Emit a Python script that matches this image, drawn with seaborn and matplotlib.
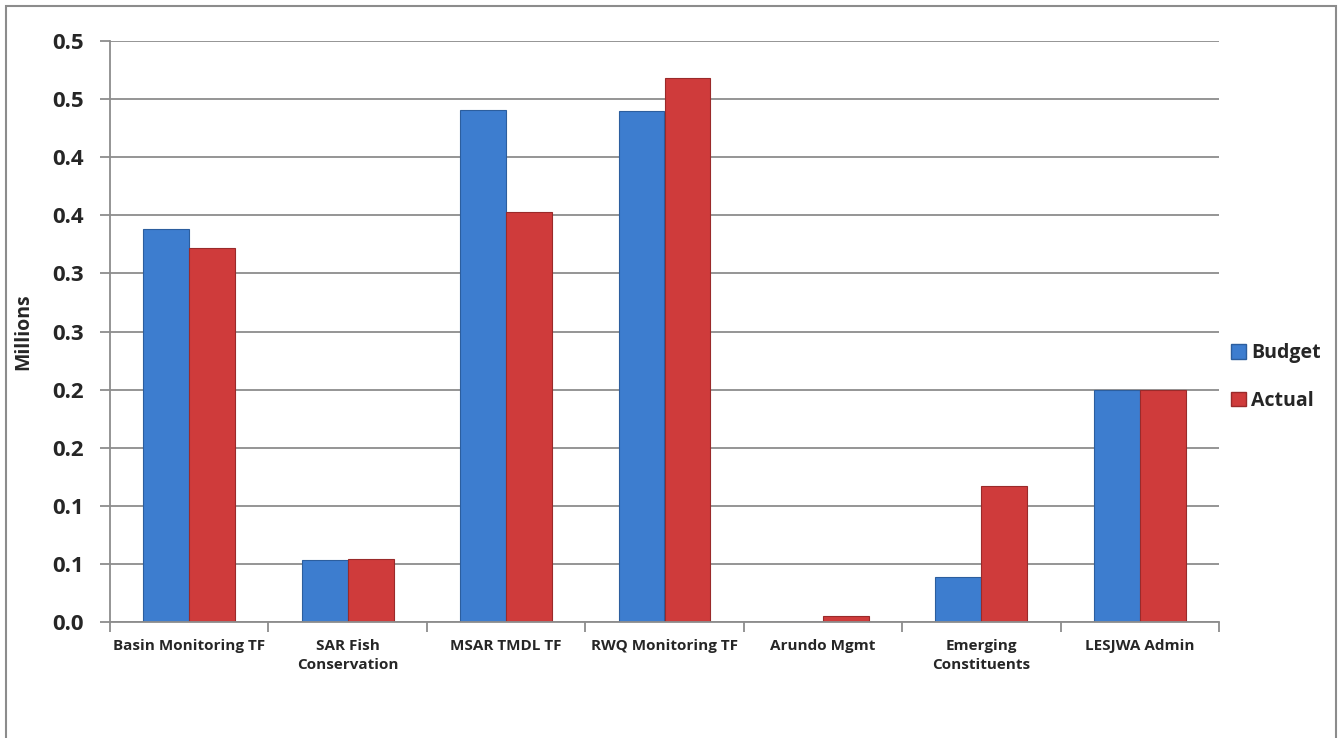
import matplotlib
matplotlib.use("Agg")
import pandas as pd
import matplotlib.pyplot as plt
import seaborn as sns
from matplotlib.patches import Rectangle

categories = ["Basin Monitoring TF", "SAR Fish\nConservation", "MSAR TMDL TF",
              "RWQ Monitoring TF", "Arundo Mgmt", "Emerging\nConstituents", "LESJWA Admin"]
budget = [0.338, 0.053, 0.441, 0.440, 0.0, 0.039, 0.200]
actual = [0.322, 0.054, 0.353, 0.468, 0.005, 0.117, 0.200]
series_names = ["Budget", "Actual"]
ytick_values = [0.0, 0.05, 0.10, 0.15, 0.20, 0.25, 0.30, 0.35, 0.40, 0.45, 0.50]
ytick_labels = ["0.0", "0.1", "0.1", "0.2", "0.2", "0.3", "0.3", "0.4", "0.4", "0.5", "0.5"]

df = pd.DataFrame({
    "category": categories * 2,
    "series": [series_names[0]] * len(budget) + [series_names[1]] * len(actual),
    "value": budget + actual,
})

blue, red = "#3D7DCF", "#CF3B3B"
blue_edge, red_edge = "#2C5E9E", "#9A2A2A"
grey = "#8C8C8C"

sns.set_theme(style="white")
plt.rcParams["font.family"] = ["Open Sans", "DejaVu Sans"]

W, H = 1338, 738
fig = plt.figure(figsize=(W / 100, H / 100), dpi=100)
ax = fig.add_axes([110 / W, 1 - 622 / H, (1219 - 110) / W, (622 - 41) / H])

sns.barplot(data=df, x="category", y="value", hue="series",
            palette={"Budget": blue, "Actual": red}, width=0.58,
            ax=ax, legend=False, saturation=1)
for bar in ax.patches:
    fc = bar.get_facecolor()
    bar.set_edgecolor(blue_edge if fc[2] > fc[0] else red_edge)
    bar.set_linewidth(0.8)

ax.set_xlim(-0.5, len(categories) - 0.5)
ax.set_ylim(0, 0.5)
ax.set_yticks(ytick_values)
ax.set_yticklabels(ytick_labels, fontsize=16, fontweight="bold")
ax.yaxis.grid(True, color=grey, linewidth=1.3)
ax.set_axisbelow(True)
ax.tick_params(axis="y", length=7, width=1.3, color=grey, direction="out", pad=12, left=True)

ax.set_xticks(range(len(categories)))
ax.set_xticklabels(categories, fontsize=11, fontweight="bold", linespacing=1.45)
ax.tick_params(axis="x", which="major", length=0, pad=12)
ax.set_xticks([i - 0.5 for i in range(len(categories) + 1)], minor=True)
ax.tick_params(axis="x", which="minor", length=7, width=1.3, color=grey, direction="out", bottom=True)

ax.set_xlabel("")
ax.set_ylabel("Millions", fontsize=14, fontweight="bold")
ax.yaxis.set_label_coords((33 - 110) / (1219 - 110), 0.5)

for side in ["top", "right"]:
    ax.spines[side].set_visible(False)
for side in ["left", "bottom"]:
    ax.spines[side].set_color(grey)
    ax.spines[side].set_linewidth(1.3)

handles = [Rectangle((0, 0), 1, 1, facecolor=blue, edgecolor=blue_edge),
           Rectangle((0, 0), 1, 1, facecolor=red, edgecolor=red_edge)]
fig.legend(handles, series_names, loc="center left",
           bbox_to_anchor=(1231 / W, 1 - 377 / H), frameon=False,
           borderpad=0, borderaxespad=0,
           handlelength=0.75, handleheight=0.75, handletextpad=0.3,
           labelspacing=1.4, prop={"weight": "bold", "size": 14})

fig.patches.append(Rectangle((6 / W, -0.02), (1336 - 6) / W, 1.02 - 6 / H,
                             transform=fig.transFigure, fill=False,
                             edgecolor=grey, linewidth=1.5, clip_on=False))

fig.savefig("out.png", dpi=100)
plt.close(fig)
